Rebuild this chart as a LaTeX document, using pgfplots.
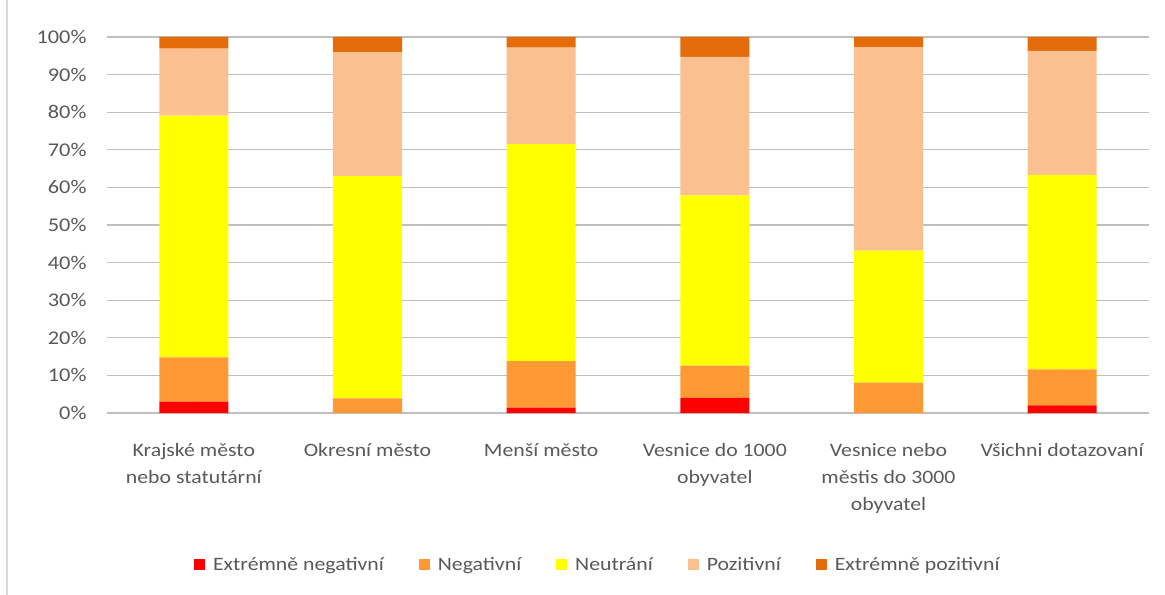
\documentclass[border=0pt]{standalone}
\usepackage{pgfplots}
\pgfplotsset{compat=1.18}
\usepackage{pgfplotstable}
\usepackage{fontspec}
\setmainfont{Carlito}[FakeStretch=1.15]

\definecolor{exneg}{HTML}{FF0000}
\definecolor{neg}{HTML}{FF9933}
\definecolor{neu}{HTML}{FFFF00}
\definecolor{poz}{HTML}{FAC090}
\definecolor{expoz}{HTML}{E46C0A}
\definecolor{txt}{HTML}{595959}
\definecolor{grid}{HTML}{D9D9D9}

% shares in %, one row per group
\pgfplotstableread{
x exneg neg neu poz expoz
0 3.0 11.8 64.3 17.8 3.1
1 0.0 3.9 59.1 32.9 4.1
2 1.4 12.4 57.7 25.7 2.8
3 4.0 8.6 45.3 36.8 5.3
4 0.0 8.1 35.1 54.1 2.7
5 2.0 9.6 51.7 33.0 3.7
}\data

\begin{document}
\begin{tikzpicture}
\begin{axis}[
    name=ax,
    scale only axis,
    width=1042bp, height=376bp,
    ybar stacked,
    bar width=69bp,
    xmin=-0.5, xmax=5.5,
    ymin=0, ymax=100,
    axis line style={draw=none},
    tick style={draw=none},
    ymajorgrids=true,
    grid style={grid, line width=1.3bp},
    ytick={0,10,...,100},
    yticklabels={0\%,10\%,20\%,30\%,40\%,50\%,60\%,70\%,80\%,90\%,100\%},
    yticklabel style={font=\fontsize{19.5}{22}\selectfont, text=txt, xshift=-17bp},
    xtick=data,
    xticklabels={{Krajské město\\nebo statutární},{Okresní město},{Menší město},{Vesnice do 1000\\obyvatel},{Vesnice nebo\\městis do 3000\\obyvatel},{Všichni dotazovaní}},
    xticklabel style={font=\fontsize{19}{27}\selectfont, text=txt, align=center, anchor=north, yshift=-27bp},
    legend columns=5,
    legend style={at={(0.471,-0.404)}, anchor=center, draw=none,
        font=\fontsize{19}{22}\selectfont, text=txt,
        /tikz/every odd column/.append style={column sep=6bp},
        /tikz/every even column/.append style={column sep=33bp}},
    legend image code/.code={\fill[#1,draw=none] (0bp,-5.5bp) rectangle (11bp,5.5bp);},
]
\addplot[fill=exneg, draw=none] table[x=x, y=exneg] {\data};
\addplot[fill=neg, draw=none] table[x=x, y=neg] {\data};
\addplot[fill=neu, draw=none] table[x=x, y=neu] {\data};
\addplot[fill=poz, draw=none] table[x=x, y=poz] {\data};
\addplot[fill=expoz, draw=none] table[x=x, y=expoz] {\data};
\legend{Extrémně negativní, Negativní, Neutrání, Pozitivní, Extrémně pozitivní}
\end{axis}
\path[use as bounding box] ([xshift=-107bp,yshift=-182bp]ax.south west) rectangle ++(1165bp,595bp);
\draw[grid, line width=1.3bp] ([xshift=-100bp,yshift=-182bp]ax.south west) -- ++(0,595bp);
\end{tikzpicture}
\end{document}
